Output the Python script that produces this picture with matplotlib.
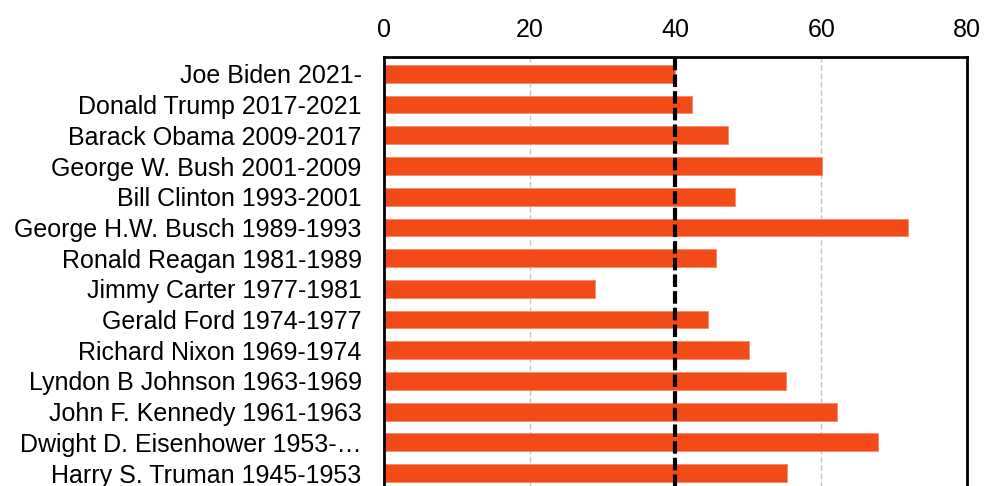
import matplotlib.pyplot as plt

presidents = [
    "Joe Biden 2021-",
    "Donald Trump 2017-2021",
    "Barack Obama 2009-2017",
    "George W. Bush 2001-2009",
    "Bill Clinton 1993-2001",
    "George H.W. Busch 1989-1993",
    "Ronald Reagan 1981-1989",
    "Jimmy Carter 1977-1981",
    "Gerald Ford 1974-1977",
    "Richard Nixon 1969-1974",
    "Lyndon B Johnson 1963-1969",
    "John F. Kennedy 1961-1963",
    "Dwight D. Eisenhower 1953-\u2026",
    "Harry S. Truman 1945-1953",
]
approval = [39.9, 42.3, 47.2, 60.1, 48.2, 71.9, 45.5, 29.0, 44.5, 50.1, 55.1, 62.1, 67.8, 55.3]
average = 40
x_ticks = [0, 20, 40, 60, 80]

plt.rcParams["font.family"] = ["Liberation Sans", "DejaVu Sans"]

fig = plt.figure(figsize=(9.84, 4.86), dpi=100)
# axes run past the bottom edge, so the chart looks cut off like the reference
ax = fig.add_axes([0.3902, -0.063, 0.5925, 0.9457])

rows = list(range(len(presidents)))
ax.barh(rows, approval, height=0.58, color="#F24B17", edgecolor="#F7886A", linewidth=0.6, zorder=2)
ax.axvline(average, color="black", linestyle=(0, (3, 1)), linewidth=3, zorder=3)

ax.set_xlim(0, 80)
ax.set_ylim(14.42, -0.55)
ax.set_xticks(x_ticks)
ax.set_yticks(rows)
ax.set_yticklabels(presidents)
ax.xaxis.tick_top()
ax.tick_params(axis="x", length=0, pad=11, labelsize=18)
ax.tick_params(axis="y", length=0, pad=16, labelsize=18)

ax.grid(axis="x", color="#c8c8c8", linestyle=(0, (4, 2)), linewidth=1, zorder=0)
ax.set_axisbelow(True)
for side in ax.spines.values():
    side.set_linewidth(2)
    side.set_color("black")

fig.savefig("out.png", dpi=100)
